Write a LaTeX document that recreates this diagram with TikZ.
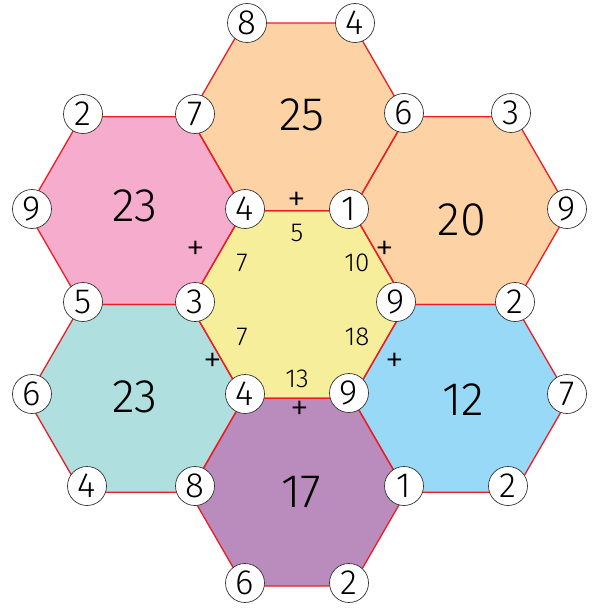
\documentclass[tikz,border=0pt]{standalone}
\usepackage{fontspec}
\setmainfont{Fira Sans}[UprightFont=* Light]
\definecolor{hexorange}{RGB}{253,211,166}
\definecolor{hexpink}{RGB}{245,172,205}
\definecolor{hexyellow}{RGB}{247,238,155}
\definecolor{hexteal}{RGB}{176,223,223}
\definecolor{hexblue}{RGB}{151,217,246}
\definecolor{hexpurple}{RGB}{186,139,189}
\definecolor{hexred}{RGB}{237,28,36}
\newcommand{\hexR}{108.35}
\begin{document}
\begin{tikzpicture}[x=1pt,y=-1pt,
  vcirc/.style={circle,draw=black!80,line width=0.7pt,fill=white,minimum size=39pt,inner sep=0pt,font=\fontsize{35}{35}\selectfont},
  bignum/.style={inner sep=0pt,font=\fontsize{47}{47}\selectfont},
  smallnum/.style={inner sep=0pt,font=\fontsize{26}{26}\selectfont},
  plussign/.style={inner sep=0pt,font=\fontsize{38}{38}\selectfont},
  hexedge/.style={draw=hexred,line width=1.3pt,line join=round}]
\useasboundingbox (0,0) rectangle (595,610);
% hexagon centres
\coordinate (hc) at (298,304.5);
\coordinate (ht) at (298,116.83);
\coordinate (hb) at (298,492.17);
\coordinate (hul) at (135.5,210.67);
\coordinate (hll) at (135.5,398.33);
\coordinate (hur) at (460.5,210.67);
\coordinate (hlr) at (460.5,398.33);
% fills
\foreach \c/\col in {hc/hexyellow,ht/hexorange,hb/hexpurple,hul/hexpink,hll/hexteal,hur/hexorange,hlr/hexblue}{
  \fill[\col] (\c) +(0:\hexR) -- +(60:\hexR) -- +(120:\hexR) -- +(180:\hexR) -- +(240:\hexR) -- +(300:\hexR) -- cycle;
}
% edges
\foreach \c in {hc,ht,hb,hul,hll,hur,hlr}{
  \path[hexedge] (\c) +(0:\hexR) -- +(60:\hexR) -- +(120:\hexR) -- +(180:\hexR) -- +(240:\hexR) -- +(300:\hexR) -- cycle;
}
% vertex circles
\node[vcirc] (v01) at (247,23) {8};
\node[vcirc] (v02) at (355,23) {4};
\node[vcirc] (v03) at (83,114) {2};
\node[vcirc] (v04) at (195,114) {7};
\node[vcirc] (v05) at (404,113) {6};
\node[vcirc] (v06) at (511,113) {3};
\node[vcirc] (v07) at (32,209) {9};
\node[vcirc] (v08) at (245,209) {4};
\node[vcirc] (v09) at (349,209) {1};
\node[vcirc] (v10) at (567,209) {9};
\node[vcirc] (v11) at (83,302) {5};
\node[vcirc] (v12) at (195,302) {3};
\node[vcirc] (v13) at (396,302) {9};
\node[vcirc] (v14) at (515,302) {2};
\node[vcirc] (v15) at (32,394) {6};
\node[vcirc] (v16) at (245,394) {4};
\node[vcirc] (v17) at (349,393) {9};
\node[vcirc] (v18) at (567,394) {7};
\node[vcirc] (v19) at (87,486) {4};
\node[vcirc] (v20) at (195,486) {8};
\node[vcirc] (v21) at (404,486) {1};
\node[vcirc] (v22) at (508,486) {2};
\node[vcirc] (v23) at (245,583) {6};
\node[vcirc] (v24) at (349,583) {2};
% big sums
\node[bignum] (s1) at (302,115) {25};
\node[bignum] (s2) at (135,206) {23};
\node[bignum] (s3) at (462,220) {20};
\node[bignum] (s4) at (135,397) {23};
\node[bignum] (s5) at (463,400) {12};
\node[bignum] (s6) at (301,492) {17};
% small edge sums
\node[smallnum] (e1) at (297,233) {5};
\node[smallnum] (e2) at (242,263) {7};
\node[smallnum] (e3) at (357,263) {10};
\node[smallnum] (e4) at (242,337) {7};
\node[smallnum] (e5) at (357,337) {18};
\node[smallnum] (e6) at (297,379) {13};
% plus signs
\node[plussign] (p1) at (297,202) {+};
\node[plussign] (p2) at (196,251) {+};
\node[plussign] (p3) at (385,251) {+};
\node[plussign] (p4) at (213,363) {+};
\node[plussign] (p5) at (395,363) {+};
\node[plussign] (p6) at (300,411) {+};
\end{tikzpicture}
\end{document}
